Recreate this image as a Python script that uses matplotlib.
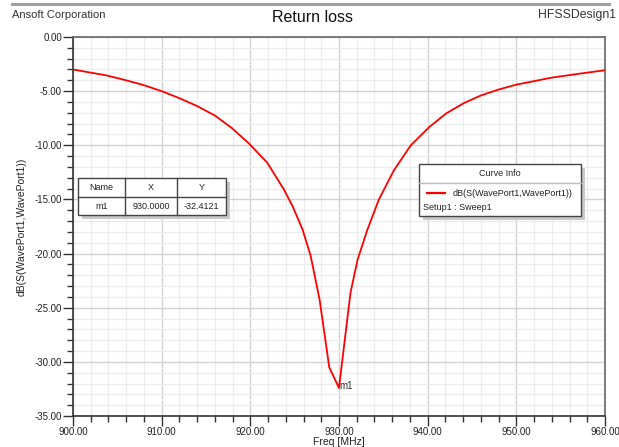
import matplotlib
matplotlib.use("Agg")
import matplotlib.pyplot as plt
from matplotlib.patches import Rectangle
from matplotlib.lines import Line2D
from matplotlib.ticker import MultipleLocator, FormatStrFormatter

plt.rcParams['font.family'] = ['Liberation Sans', 'DejaVu Sans']

# data
freq = [900.0, 903.8, 905.9, 908.0, 910.0, 912.0, 914.0, 916.0, 917.9, 919.8, 921.9, 923.8,
        924.75, 925.9, 926.8, 927.8, 928.4, 928.9, 930.0,
        930.75, 931.3, 932.1, 933.2, 934.5, 936.2, 938.1, 940.2, 942.1,
        944.1, 946.0, 948.0, 950.0, 954.0, 957.0, 960.0]
s11 = [-3.0, -3.55, -3.98, -4.45, -5.0, -5.65, -6.38, -7.25, -8.4, -9.8, -11.6, -14.1,
       -15.6, -17.8, -20.2, -24.2, -27.6, -30.5, -32.4121,
       -27.3, -23.6, -20.55, -17.8, -15.0, -12.3, -10.0, -8.3, -7.05,
       -6.1, -5.4, -4.85, -4.4, -3.75, -3.4, -3.07]
marker_name = "m1"
marker_x = 930.0
marker_y = -32.4121

W, H = 619, 447
fig = plt.figure(figsize=(W / 100, H / 100), dpi=100)
fig.patch.set_facecolor("white")

def px(x, y):
    # pixel (from top-left) -> figure fraction
    return x / W, 1 - y / H

ax = fig.add_axes([73 / W, (H - 416) / H, (605 - 73) / W, (416 - 37) / H])
ax.plot(freq, s11, color="#ff0000", lw=1.3, zorder=3)
ax.text(marker_x + 0.1, marker_y + 0.15, marker_name, fontsize=7, color="#333333",
        va="center", ha="left", zorder=4)

ax.set_xlim(900, 960)
ax.set_ylim(-35, 0)
ax.xaxis.set_major_locator(MultipleLocator(10))
ax.xaxis.set_minor_locator(MultipleLocator(2))
ax.yaxis.set_major_locator(MultipleLocator(5))
ax.yaxis.set_minor_locator(MultipleLocator(1))
ax.xaxis.set_major_formatter(FormatStrFormatter("%.2f"))
ax.yaxis.set_major_formatter(FormatStrFormatter("%.2f"))
ax.grid(True, which="major", color="#d2d2d2", lw=1.0)
ax.grid(True, which="minor", color="#ececec", lw=0.9)
ax.set_axisbelow(True)
ax.tick_params(which="major", length=7, width=1, color="#333333", labelsize=7,
               labelcolor="#222222", pad=1)
ax.tick_params(which="minor", length=4, width=1, color="#333333")
for s in ["left", "bottom"]:
    ax.spines[s].set_color("#333333")
    ax.spines[s].set_linewidth(1.2)
for s in ["top", "right"]:
    ax.spines[s].set_color("#666666")
    ax.spines[s].set_linewidth(1.2)

ax.set_xlabel("Freq [MHz]", fontsize=7.5, labelpad=0, color="#222222")
ax.set_ylabel("dB(S(WavePort1,WavePort1))", fontsize=7.5, labelpad=6, color="#222222")

# header
fig.add_artist(Line2D([12 / W, 609 / W], [1 - 4 / H, 1 - 4 / H], color="#a0a0a0", lw=2.2))
fig.text(*px(12, 15), "Ansoft Corporation", fontsize=8, va="center", ha="left", color="#333333")
fig.text(*px(313, 17), "Return loss", fontsize=11.5, va="center", ha="center", color="#111111")
fig.text(*px(538, 15), "HFSSDesign1", fontsize=8.8, va="center", ha="left", color="#333333")

def box(x0, y0, x1, y1):
    # shadow + white box with dark border, pixel coords
    fig.add_artist(Rectangle(px(x0 + 4, y1 + 4), (x1 - x0) / W, (y1 - y0) / H,
                             transform=fig.transFigure, facecolor="#c8c8c8",
                             edgecolor="none", zorder=5))
    fig.add_artist(Rectangle(px(x0, y1), (x1 - x0) / W, (y1 - y0) / H,
                             transform=fig.transFigure, facecolor="white",
                             edgecolor="#444444", lw=1.0, zorder=6))

def hline(x0, x1, y, c="#444444"):
    fig.add_artist(Line2D([x0 / W, x1 / W], [1 - y / H, 1 - y / H], color=c, lw=1.0, zorder=7))

def vline(x, y0, y1):
    fig.add_artist(Line2D([x / W, x / W], [1 - y0 / H, 1 - y1 / H], color="#444444", lw=1.0, zorder=7))

# marker table
box(78, 178, 226, 215)
hline(78, 226, 197)
vline(125, 178, 215)
vline(177, 178, 215)
cells = [("Name", "X", "Y"), (marker_name, f"{marker_x:.4f}", f"{marker_y:.4f}")]
for r, row in enumerate(cells):
    yc = 188 if r == 0 else 206
    for xc, t in zip([101.5, 151, 201.5], row):
        fig.text(*px(xc, yc), t, fontsize=6.5, ha="center", va="center", color="#222222", zorder=8)

# curve info
box(419, 164, 581, 216)
hline(419, 581, 183, c="#bbbbbb")
fig.text(*px(500, 174), "Curve Info", fontsize=6.5, ha="center", va="center", color="#222222", zorder=8)
fig.add_artist(Line2D([427 / W, 445 / W], [1 - 193 / H, 1 - 193 / H], color="#ff0000", lw=1.6, zorder=8))
fig.text(*px(453, 193), "dB(S(WavePort1,WavePort1))", fontsize=6.5, ha="left", va="center",
         color="#222222", zorder=8)
fig.text(*px(423, 207), "Setup1 : Sweep1", fontsize=6.5, ha="left", va="center",
         color="#222222", zorder=8)

fig.savefig("out.png", dpi=100)
